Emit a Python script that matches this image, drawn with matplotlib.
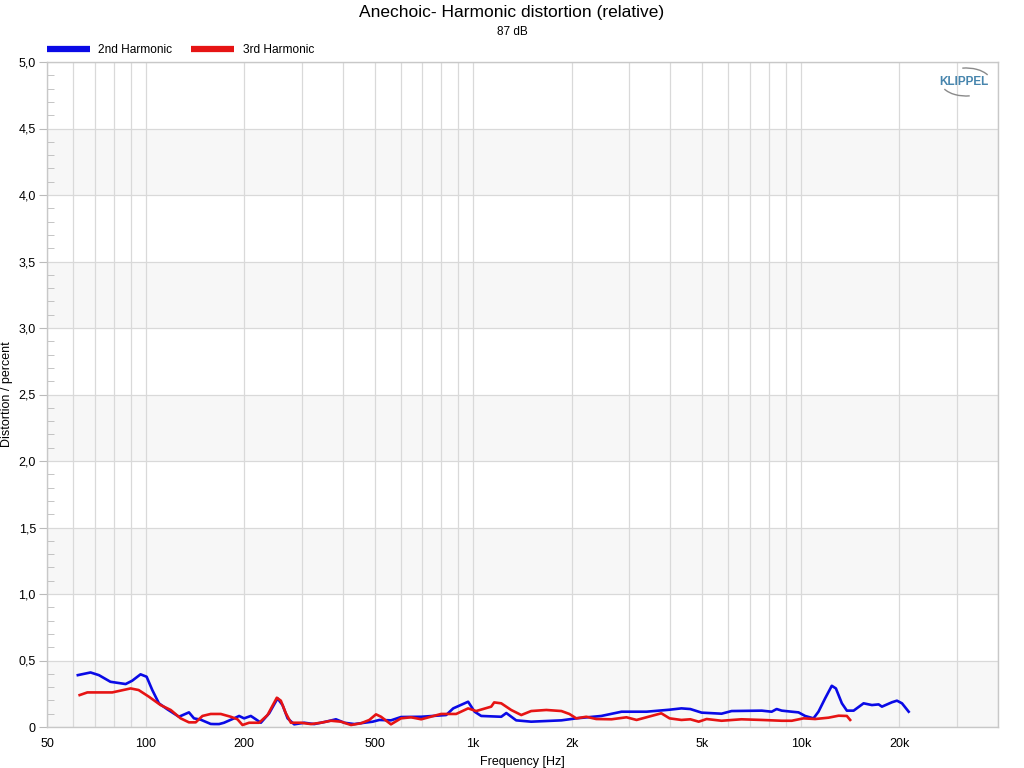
import matplotlib
matplotlib.use("Agg")
import matplotlib.pyplot as plt
from matplotlib.patches import Arc
from matplotlib.lines import Line2D
import numpy as np

plt.rcParams['font.family'] = ['Liberation Sans', 'DejaVu Sans']

# 2nd harmonic (blue)
h2_freq = [62.1, 67.9, 72.0, 78.1, 86.9, 91.0, 96.5, 100.7, 104.8, 109.8, 116.5, 126.4,
           135.6, 140.5, 147.3, 158.0, 161.8, 167.6, 173.5, 186.2, 192.9, 199.8, 209.5,
           217.0, 224.8, 238.3, 252.8, 261.8, 271.3, 284.2, 304.9, 327.1, 355.1, 381.1,
           404.1, 433.5, 465.2, 493.5, 517.0, 561, 602, 694, 827, 869, 965, 1010, 1058,
           1218, 1262, 1353, 1503, 1859, 2064, 2461, 2838, 3381, 3976, 4321, 4600, 4982,
           5730, 6150, 7600, 8150, 8440, 8748, 9386, 9840, 10310, 10935, 11325, 11865,
           12435, 12800, 13350, 13825, 14500, 15550, 16490, 17285, 17690, 18980, 19660,
           20370, 21350]
h2_val = [0.39, 0.41, 0.39, 0.34, 0.323, 0.348, 0.396, 0.378, 0.278, 0.178, 0.133, 0.077,
          0.11, 0.065, 0.055, 0.023, 0.022, 0.022, 0.032, 0.065, 0.083, 0.065, 0.083,
          0.058, 0.032, 0.103, 0.215, 0.165, 0.065, 0.02, 0.032, 0.022, 0.04, 0.058,
          0.032, 0.022, 0.032, 0.04, 0.053, 0.05, 0.075, 0.077, 0.09, 0.14, 0.19, 0.115,
          0.083, 0.077, 0.105, 0.05, 0.04, 0.05, 0.065, 0.083, 0.115, 0.115, 0.13, 0.14,
          0.135, 0.108, 0.10, 0.12, 0.123, 0.115, 0.135, 0.123, 0.115, 0.11, 0.083,
          0.065, 0.115, 0.215, 0.31, 0.29, 0.178, 0.123, 0.123, 0.178, 0.165, 0.17,
          0.153, 0.186, 0.198, 0.178, 0.115]

# 3rd harmonic (red)
h3_freq = [62.9, 66.4, 79.1, 90.0, 95.2, 102.3, 111.1, 119.3, 127.9, 135.6, 142.2, 149.1,
           158.0, 169.6, 181.9, 190.7, 197.6, 207.0, 222.1, 235.6, 251.5, 258.7, 268.0,
           277.7, 297.9, 319.6, 342.8, 367.9, 394.7, 423.6, 454.5, 481.8, 505.0, 523.2,
           561, 602, 646, 694, 798, 887, 965, 1021, 1135, 1159, 1218, 1306, 1402, 1503,
           1672, 1859, 1966, 2064, 2214, 2375, 2644, 2937, 3153, 3752, 3976, 4321, 4600,
           4880, 5160, 5730, 6590, 7600, 8748, 9386, 10190, 11060, 12150, 13045, 13825,
           14150]
h3_val = [0.24, 0.26, 0.26, 0.29, 0.278, 0.228, 0.165, 0.128, 0.065, 0.035, 0.035, 0.083,
          0.098, 0.098, 0.077, 0.058, 0.015, 0.032, 0.032, 0.09, 0.22, 0.198, 0.103,
          0.032, 0.032, 0.022, 0.032, 0.047, 0.04, 0.015, 0.028, 0.053, 0.095, 0.077,
          0.02, 0.065, 0.073, 0.058, 0.098, 0.098, 0.14, 0.12, 0.153, 0.185, 0.178,
          0.128, 0.09, 0.12, 0.128, 0.12, 0.098, 0.065, 0.077, 0.06, 0.058, 0.073, 0.053,
          0.103, 0.065, 0.053, 0.058, 0.04, 0.06, 0.047, 0.058, 0.053, 0.047, 0.047,
          0.065, 0.06, 0.07, 0.085, 0.083, 0.053]

x_ticks = [50, 100, 200, 500, 1000, 2000, 5000, 10000, 20000]
x_labels = ["50", "100", "200", "500", "1k", "2k", "5k", "10k", "20k"]
y_ticks = [0, 0.5, 1.0, 1.5, 2.0, 2.5, 3.0, 3.5, 4.0, 4.5, 5.0]
y_labels = ["0"] + [("%.1f" % v).replace(".", ",") for v in y_ticks[1:]]

fig = plt.figure(figsize=(10.24, 7.68), dpi=100)
ax = fig.add_axes([47 / 1024, 1 - 727 / 768, 951 / 1024, 665 / 768])

ax.set_xscale("log")
ax.set_xlim(50, 40000)
ax.set_ylim(0, 5)

# alternating bands
for lo in [0, 1, 2, 3, 4]:
    ax.axhspan(lo, lo + 0.5, color="#f7f7f7", zorder=0, lw=0)

# vertical grid at every log step
grid_f = []
for dec in [10, 100, 1000, 10000]:
    for m in range(1, 10):
        f = m * dec
        if 50 <= f <= 40000:
            grid_f.append(f)
for f in grid_f:
    ax.axvline(f, color="#d9d9d9", lw=0.9, zorder=1)
for v in y_ticks:
    ax.axhline(v, color="#d9d9d9", lw=0.9, zorder=1)

ax.plot(h2_freq, h2_val, color="#0a0ae6", lw=1.9, zorder=3, solid_joinstyle="round")
ax.plot(h3_freq, h3_val, color="#e61414", lw=1.9, zorder=3, solid_joinstyle="round")

ax.set_xticks(x_ticks)
ax.set_xticklabels(x_labels)
ax.xaxis.set_minor_locator(matplotlib.ticker.NullLocator())
ax.set_yticks(y_ticks)
ax.set_yticklabels(y_labels)
ax.set_yticks(np.arange(0, 5.01, 0.1), minor=True)
ax.tick_params(axis="x", length=0, labelsize=9, pad=8)
ax.tick_params(axis="y", which="major", length=6, direction="out", color="#bbbbbb",
               labelsize=9, pad=2)
ax.tick_params(axis="y", which="minor", length=5, direction="in", color="#bbbbbb")

for s in ax.spines.values():
    s.set_color("#c8c8c8")
    s.set_linewidth(1.0)

ax.set_xlabel("Frequency [Hz]", fontsize=9, labelpad=4)
ax.set_ylabel("Distortion / percent", fontsize=9, labelpad=4)

fig.text(0.5, 1 - 12 / 768, "Anechoic- Harmonic distortion (relative)", ha="center",
         va="center", fontsize=12.5)
fig.text(0.5, 1 - 32 / 768, "87 dB", ha="center", va="center", fontsize=8.5)

# legend above the plot
handles = [Line2D([], [], color="#0a0ae6", lw=4.5, solid_capstyle="butt"),
           Line2D([], [], color="#e61414", lw=4.5, solid_capstyle="butt")]
fig.legend(handles, ["2nd Harmonic", "3rd Harmonic"], loc="center left",
           bbox_to_anchor=(36 / 1024, 1 - 50 / 768), ncol=2, frameon=False,
           fontsize=8.6, handlelength=3.6, columnspacing=1.6, handletextpad=0.7)

# Klippel logo
lax = fig.add_axes([930 / 1024, 1 - 102 / 768, 70 / 1024, 40 / 768])
lax.set_xlim(930, 1000)
lax.set_ylim(768 - 102, 768 - 62)
lax.axis("off")
lax.text(964, 768 - 82, "KLIPPEL", ha="center", va="center", fontsize=8.5,
         fontweight="bold", color="#4785ad")
lax.add_patch(Arc((966, 768 - 82), 50, 28, theta1=18, theta2=105, color="#8a8a8a", lw=1))
lax.add_patch(Arc((966, 768 - 82), 50, 28, theta1=198, theta2=285, color="#8a8a8a", lw=1))

fig.savefig("out.png", dpi=100)
